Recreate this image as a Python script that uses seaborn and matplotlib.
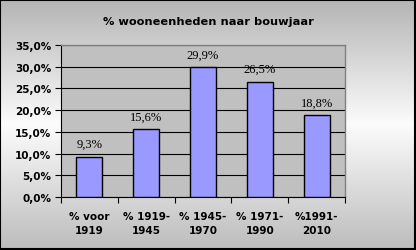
import numpy as np
import matplotlib
matplotlib.use("Agg")
import matplotlib.pyplot as plt
import seaborn as sns
import pandas as pd
from matplotlib.ticker import FuncFormatter

categories = ["% voor\n1919", "% 1919-\n1945", "% 1945-\n1970", "% 1971-\n1990", "%1991-\n2010"]
values = [9.3, 15.6, 29.9, 26.5, 18.8]
labels = ["9,3%", "15,6%", "29,9%", "26,5%", "18,8%"]
title = "% wooneenheden naar bouwjaar"

sns.set_theme(style="white")
plt.rcParams['font.family'] = ['DejaVu Sans']

W, H = 416, 251
fig = plt.figure(figsize=(W/100, H/100), dpi=100)

# background gradient (vertical: darker top, white middle, darker bottom)
bg = fig.add_axes([0, 0, 1, 1], zorder=-10)
cmap = matplotlib.colors.LinearSegmentedColormap.from_list(
    "g", [(0, "#b4b4b4"), (0.5, "#fcfcfc"), (1.0, "#bcbcbc")])
grad = np.linspace(0, 1, 256)[:, None] * np.ones((1, 4))
bg.imshow(grad, cmap=cmap, aspect="auto", extent=[0, 1, 0, 1], origin="upper", vmin=0, vmax=1)
bg.set_xlim(0, 1); bg.set_ylim(0, 1)
bg.axis("off")
bg.add_patch(plt.Rectangle((0.001, 0.002), 0.997, 0.995, fill=False, edgecolor="black",
                           lw=1.5, transform=bg.transAxes))

left, right = 61/W, 345/W
top, bottom = 46/H, 198/H
ax = fig.add_axes([left, 1-bottom, right-left, bottom-top])
ax.set_facecolor("#c0c0c0")

df = pd.DataFrame({"cat": categories, "val": values})
sns.barplot(data=df, x="cat", y="val", ax=ax, color="#9999ff", width=0.46,
            edgecolor="black", linewidth=1, saturation=1, zorder=3)

ax.set_ylim(0, 35)
ax.set_yticks(np.arange(0, 35.1, 5))
ax.yaxis.set_major_formatter(FuncFormatter(lambda v, p: f"{v:.1f}%".replace(".", ",")))
ax.grid(axis="y", color="black", lw=0.8, zorder=0)
ax.set_axisbelow(True)
ax.set_xlim(-0.5, 4.5)
for s in ["top", "right"]:
    ax.spines[s].set_color("#808080")
    ax.spines[s].set_linewidth(1.0)
for s in ["left", "bottom"]:
    ax.spines[s].set_color("black")
    ax.spines[s].set_linewidth(0.8)
ax.set_xlabel(""); ax.set_ylabel("")
ax.tick_params(axis="y", length=4, width=0.8, color="black", direction="out", left=True, pad=3)
ax.set_xticks(np.arange(-0.5, 4.6, 1), minor=True)
ax.tick_params(axis="x", which="major", length=0, pad=10)
ax.tick_params(axis="x", which="minor", length=4, width=0.8, color="black", direction="out", bottom=True)
for t in ax.get_xticklabels() + ax.get_yticklabels():
    t.set_fontweight("bold"); t.set_fontsize(7.5); t.set_color("black")
for t in ax.get_xticklabels():
    t.set_linespacing(1.5)

for i, (v, l) in enumerate(zip(values, labels)):
    ax.annotate(l, (i, v), xytext=(0, 7), textcoords="offset points",
                ha="center", va="baseline", fontsize=9,
                family=["Liberation Serif"], color="black")

fig.text(0.5, 1 - 22/H, title, ha="center", va="center", fontsize=8.2, fontweight="bold", color="black")

fig.savefig("out.png", dpi=100)
